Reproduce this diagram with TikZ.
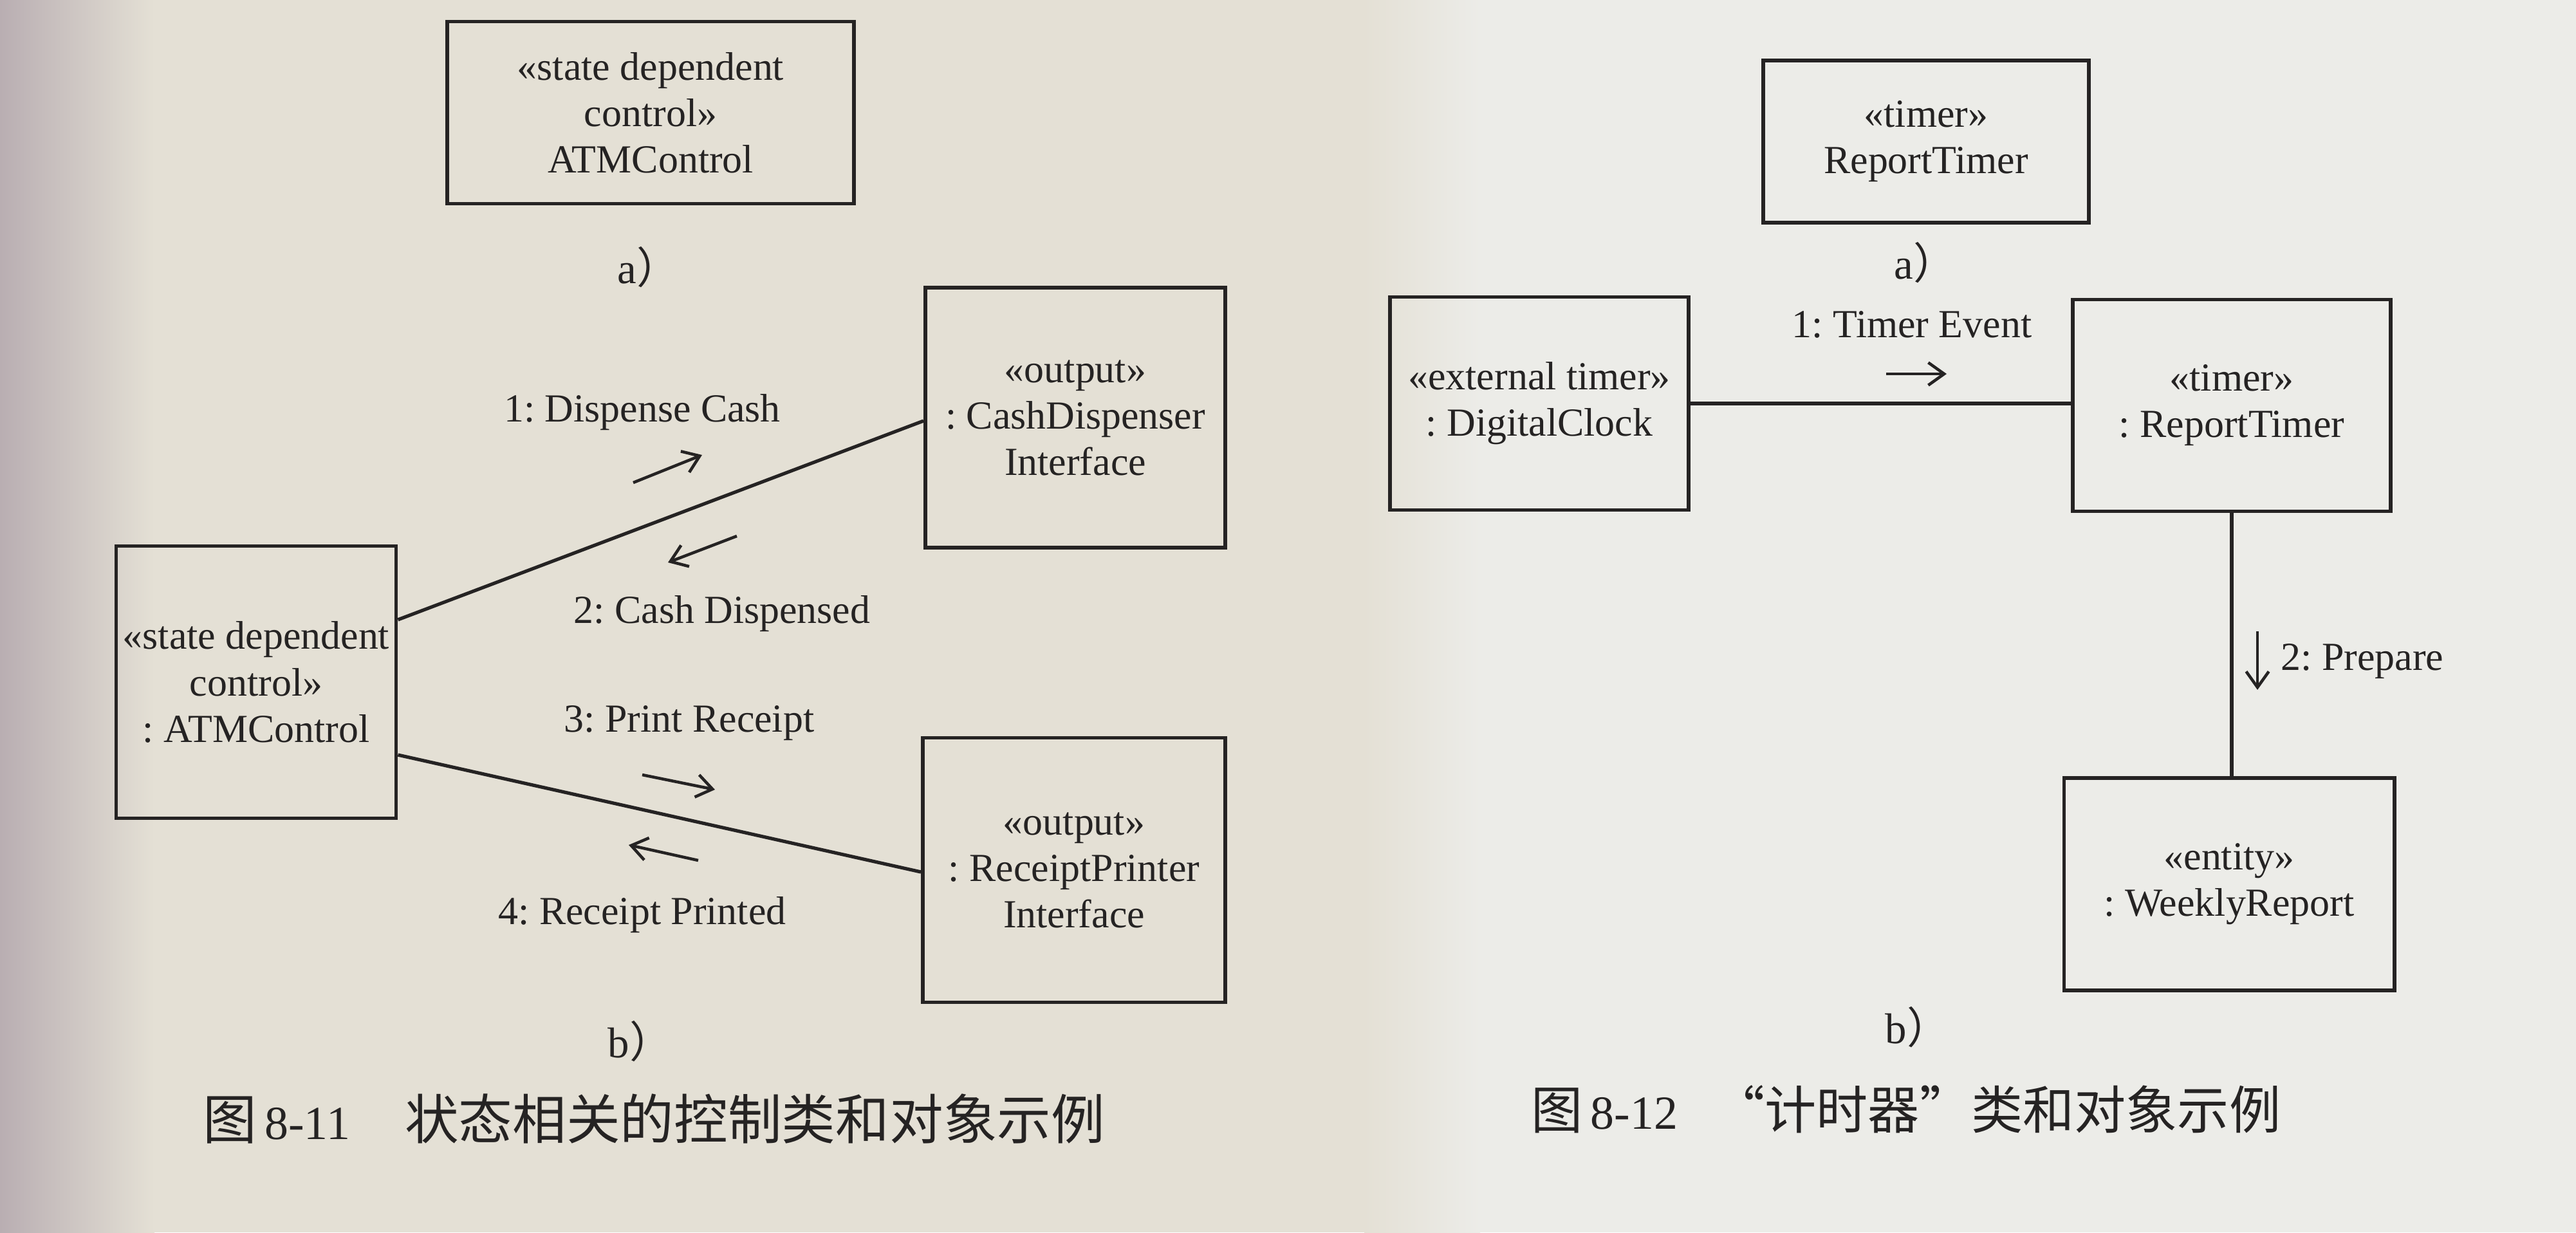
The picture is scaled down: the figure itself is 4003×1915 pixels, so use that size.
\documentclass[tikz,border=0pt]{standalone}
\usepackage{fontspec}
\setmainfont{Liberation Serif}
\newfontfamily\cjk{Noto Sans CJK SC}
\usetikzlibrary{arrows.meta,calc}
\frenchspacing

\definecolor{ink}{HTML}{252323}
\definecolor{leftpage}{HTML}{E4E0D5}
\definecolor{rightpage}{HTML}{ECECE8}
\definecolor{gutter}{HTML}{B9AEB2}

\newcommand\diagfont{\fontsize{17.6}{20.5}\selectfont}
\newcommand\subfont{\fontsize{19}{22}\selectfont}
\newcommand\numfont{\fontsize{21}{24}\selectfont}

\begin{document}
\begin{tikzpicture}[x=0.01cm,y=-0.01cm,
  obj/.style={draw=ink, line width=1.6pt, text=ink, align=center,
              inner sep=0pt, font=\diagfont},
  link/.style={draw=ink, line width=1.5pt},
  msg/.style={draw=ink, line width=1.3pt,
              -{Straight Barb[length=7pt,width=10pt,line width=1.3pt]}},
  lab/.style={text=ink, font=\diagfont, inner sep=0pt},
  sub/.style={text=ink, font=\subfont, inner sep=0pt},
  caption/.style={text=ink, inner sep=0pt, anchor=west},
]
\useasboundingbox (0,0) rectangle (4003,1915);

% paper
\fill[leftpage] (0,0) rectangle (2200,1915);
\shade[left color=gutter, right color=leftpage] (0,0) rectangle (240,1915);
\shade[left color=leftpage, right color=rightpage] (2120,0) rectangle (2300,1915);
\fill[rightpage] (2300,0) rectangle (4003,1915);

% ---------- Figure 8-11 ----------
\node[obj, minimum width=6.32cm, minimum height=2.83cm] (ctlclass) at (1011,175)
  {«state dependent\\control»\\ATMControl};
\node[sub] (sa1) at (1008,415) {a{\cjk ）}};

\node[obj, minimum width=4.35cm, minimum height=4.23cm] (atm) at (398,1060)
  {«state dependent\\control»\\: ATMControl};
\node[obj, minimum width=4.66cm, minimum height=4.04cm] (cash) at (1671,649)
  {«output»\\: CashDispenser\\Interface};
\node[obj, minimum width=4.70cm, minimum height=4.11cm] (printer) at (1669,1352)
  {«output»\\: ReceiptPrinter\\Interface};

\draw[link] ([yshift=0.97cm]atm.east) -- ([yshift=-0.05cm]cash.west);
\draw[link] ([yshift=-1.13cm]atm.east) -- ([yshift=-0.03cm]printer.west);

\node[lab] (l1) at (998,641) {1: Dispense Cash};
\node[lab] (l2) at (1122,954) {2: Cash Dispensed};
\node[lab] (l3) at (1071,1124) {3: Print Receipt};
\node[lab] (l4) at (998,1422) {4: Receipt Printed};

\coordinate (m1a) at (984,750);  \coordinate (m1b) at (1091,707);
\coordinate (m2a) at (1145,833); \coordinate (m2b) at (1038,874);
\coordinate (m3a) at (998,1204); \coordinate (m3b) at (1111,1227);
\coordinate (m4a) at (1085,1337);\coordinate (m4b) at (977,1313);
\draw[msg] (m1a) -- (m1b);
\draw[msg] (m2a) -- (m2b);
\draw[msg] (m3a) -- (m3b);
\draw[msg] (m4a) -- (m4b);

\node[sub] (sb1) at (995,1618) {b{\cjk ）}};

\node[caption] (cap1) at (315,1739)
  {\fontsize{23.8}{28}\selectfont\cjk 图\hspace{0.12cm}{\numfont\rmfamily 8-11}\hspace{0.85cm}状态相关的控制类和对象示例};

% ---------- Figure 8-12 ----------
\node[obj, minimum width=5.06cm, minimum height=2.52cm] (timerclass) at (2993,220)
  {«timer»\\ReportTimer};
\node[sub] (sa2) at (2992,408) {a{\cjk ）}};

\node[obj, minimum width=4.64cm, minimum height=3.31cm] (clock) at (2392,627)
  {«external timer»\\: DigitalClock};
\node[obj, minimum width=4.94cm, minimum height=3.29cm] (timer) at (3468,630)
  {«timer»\\: ReportTimer};
\node[obj, minimum width=5.13cm, minimum height=3.30cm] (report) at (3464,1374)
  {«entity»\\: WeeklyReport};

\draw[link] (clock.east) -- (clock.east -| timer.west);
\draw[link] (timer.south) -- (timer.south |- report.north);

\node[lab] (l5) at (2971,504) {1: Timer Event};
\node[lab, anchor=west] (l6) at (3544,1028) {2: Prepare};

\coordinate (m5a) at (2931,581);  \coordinate (m5b) at (3025,581);
\coordinate (m6a) at (3508,981);  \coordinate (m6b) at (3508,1072);
\draw[msg] (m5a) -- (m5b);
\draw[msg] (m6a) -- (m6b);

\node[sub] (sb2) at (2980,1596) {b{\cjk ）}};

\node[caption] (cap2) at (2379,1724)
  {\fontsize{22.8}{27}\selectfont\cjk 图\hspace{0.12cm}{\numfont\rmfamily 8-12}\hspace{0.55cm}“计时器”类和对象示例};

\end{tikzpicture}
\end{document}
